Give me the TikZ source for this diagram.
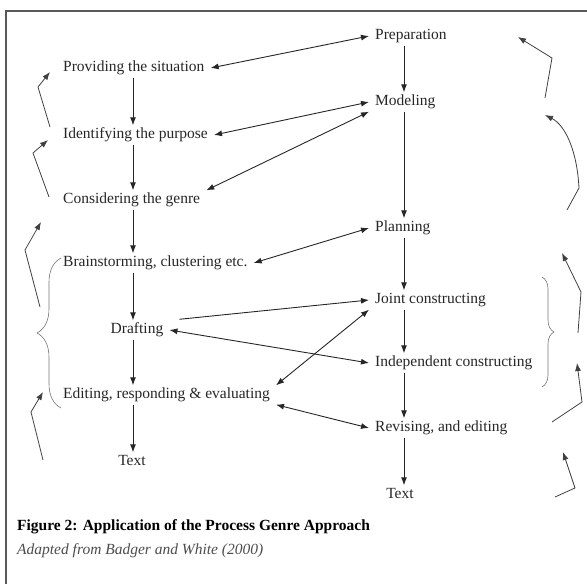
\documentclass[tikz,border=0pt]{standalone}
\usepackage{fontspec}
\setmainfont{Liberation Serif}
\usepackage{tikz}
\usetikzlibrary{
  positioning,
  decorations.pathreplacing,
  arrows.meta
}

\tikzset{
  stage/.style={inner xsep=6pt,inner ysep=3pt,text height=10pt,text depth=3pt,
    text=black!85,font=\fontsize{15.5}{18}\selectfont},
  capt/.style={inner xsep=6pt,inner ysep=2pt,font=\fontsize{15.5}{18}\selectfont},
  link/.style={<->,line width=0.9pt,draw=black!85},
  flow/.style={->,line width=0.9pt,draw=black!85},
  back/.style={->,line width=0.8pt,draw=black!75},
  grp/.style={decorate,decoration={brace,amplitude=#1},draw=black!55,line width=0.6pt}
}

\begin{document}
\begin{tikzpicture}[x=1pt,y=-1pt,>={Latex[length=8pt,width=6pt]}]
        \useasboundingbox (0,0) rectangle (587,584);
        \draw[line width=1.8pt,black!65] (6,584) -- (6,11) -- (587,11);

        \coordinate (lx) at (133,0);
        \coordinate (rx) at (404,0);

        \node[stage,anchor=west] (prov) at (57,68) {Providing the situation};
        \node[stage,anchor=west] (ident) at (57,135) {Identifying the purpose};
        \node[stage,anchor=west] (consid) at (57,200) {Considering the genre};
        \node[stage,anchor=west] (brain) at (57,263) {Brainstorming, clustering etc.};
        \node[stage] (draft) at (137,330) {Drafting};
        \node[stage,anchor=west] (edit) at (57,395) {Editing, responding \& evaluating};
        \node[stage] (textl) at (132,462) {Text};

        \node[stage,anchor=west] (prep) at (369,36) {Preparation};
        \node[stage,anchor=west] (model) at (369,102) {Modeling};
        \node[stage,anchor=west] (plan) at (369,228) {Planning};
        \node[stage,anchor=west] (joint) at (369,300) {Joint constructing};
        \node[stage,anchor=west] (indep) at (369,363) {Independent constructing};
        \node[stage,anchor=west] (rev) at (369,428) {Revising, and editing};
        \node[stage] (textr) at (400,495) {Text};

        \node[capt,anchor=west] (fig) at (11,527) {\textbf{Figure 2: Application of the Process Genre Approach}};
        \node[capt,anchor=west,text=black!70] (src) at (11,551) {\textit{Adapted from Badger and White (2000)}};

        \draw[flow] (prov.south -| lx) -- (ident.north -| lx);
        \draw[flow] (ident.south -| lx) -- (consid.north -| lx);
        \draw[flow] (consid.south -| lx) -- (brain.north -| lx);
        \draw[flow] (brain.south -| lx) -- (draft.north -| lx);
        \draw[flow] (draft.south -| lx) -- (edit.north -| lx);
        \draw[flow] (edit.south -| lx) -- (textl.north -| lx);

        \draw[flow] (prep.south -| rx) -- (model.north -| rx);
        \draw[flow] (model.south -| rx) -- (plan.north -| rx);
        \draw[flow] (plan.south -| rx) -- (joint.north -| rx);
        \draw[flow] (joint.south -| rx) -- (indep.north -| rx);
        \draw[flow] (indep.south -| rx) -- (rev.north -| rx);
        \draw[flow] (rev.south -| rx) -- (textr.north -| rx);

        \draw[link] (prov.east) -- (prep.west);
        \draw[link] (ident.east) -- (model.west);
        \draw[link] (consid.north east) -- (model.south west);
        \draw[link] (brain.east) -- (plan.west);
        \draw[flow,shorten <=10pt] (draft.north east) -- (joint.west);
        \draw[link] (draft.east) -- (indep.west);
        \draw[link] (edit.north east) -- (joint.south west);
        \draw[link] (edit.south east) -- (rev.west);

        \draw[grp=24pt] (61,408) -- (61,258);
        \draw[grp=12pt] (542,277) -- (542,387);

        \draw[back] (50,127) -- (38,87) -- (50,72);
        \draw[back] (49,197) -- (33,153) -- (48,140);
        \draw[back] (40,307) -- (25,250) -- (41,222);
        \draw[back] (43,460) -- (31,412) -- (43,392);

        \draw[back] (545,98) -- (552,58) -- (518,37);
        \draw[back] (567,210) -- (579,188) .. controls (577,150) and (565,125) .. (545,115);
        \draw[back] (578,333) -- (581,292) -- (562,253);
        \draw[back] (552,422) -- (582,402) -- (577,363);
        \draw[back] (555,497) -- (575,488) -- (563,452);
    \end{tikzpicture}
\end{document}
